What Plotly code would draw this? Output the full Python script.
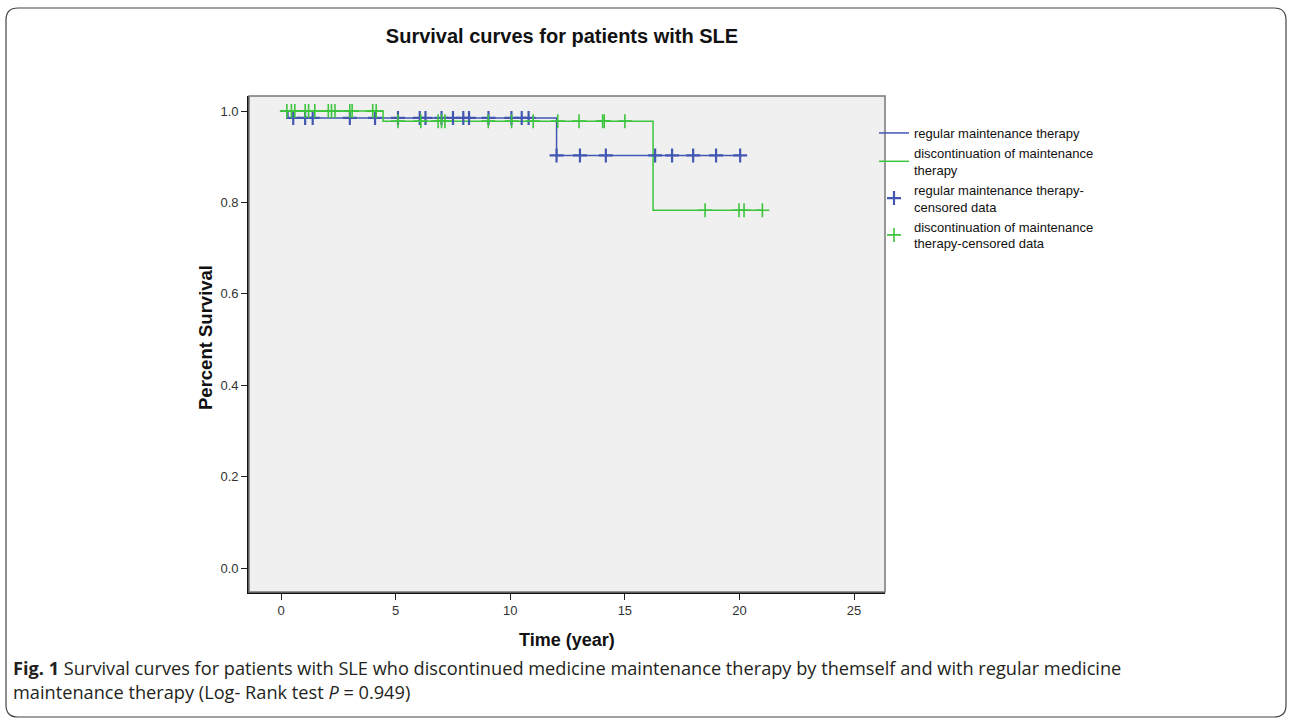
import plotly.graph_objects as go
import numpy as np

# ---------------- data ----------------
reg_name = "regular maintenance therapy"
dis_name = "discontinuation of maintenance<br>therapy"
reg_cens_name = "regular maintenance therapy-<br>censored data"
dis_cens_name = "discontinuation of maintenance<br>therapy-censored data"

# Kaplan-Meier step curves (time in years, survival proportion)
reg_time = [0, 0.3, 12.02, 20.03]
reg_surv = [1.0, 0.985, 0.903, 0.903]
dis_time = [0, 4.45, 16.23, 21.0]
dis_surv = [1.0, 0.978, 0.783, 0.783]

# censored observation times
reg_cens = [0.53, 1.05, 1.38, 3.0, 4.1, 5.1, 6.05, 6.3, 7.0, 7.5, 7.95, 8.2,
            9.05, 10.05, 10.5, 10.8, 12.02, 13.04, 14.17, 16.32, 17.06, 17.98,
            18.98, 20.03]
dis_cens = [0.25, 0.45, 0.6, 1.05, 1.2, 1.47, 2.06, 2.2, 2.35, 3.0, 3.1, 4.0,
            4.15, 5.1, 6.1, 6.85, 7.0, 7.15, 9.04, 10.06, 11.0, 12.07, 13.0,
            14.03, 14.1, 15.0, 18.5, 19.98, 20.2, 21.0]

x_ticks = [0, 5, 10, 15, 20, 25]
y_ticks = [0.0, 0.2, 0.4, 0.6, 0.8, 1.0]

title_text = "Survival curves for patients with SLE"
x_title = "Time (year)"
y_title = "Percent Survival"
caption1 = ("<b>Fig. 1</b> Survival curves for patients with SLE who discontinued medicine "
            "maintenance therapy by themself and with regular medicine")
caption2 = "maintenance therapy (Log- Rank test <i>P</i> = 0.949)"

BLUE = "#4257B2"
GREEN = "#3DC43D"


def step_value(times, surv, t):
    idx = np.searchsorted(np.array(times), t, side="right") - 1
    return surv[max(idx, 0)]


reg_cens_y = [step_value(reg_time, reg_surv, t) for t in reg_cens]
dis_cens_y = [step_value(dis_time, dis_surv, t) for t in dis_cens]

# ---------------- layout geometry (pixels) ----------------
FW, FH = 1292, 724
L, R, T, B = 249, 885, 96, 592
W, H = R - L, B - T


def px(x):
    return (x - L) / W


def py(y):
    return (B - y) / H


fig = go.Figure()

fig.add_trace(go.Scatter(x=reg_time, y=reg_surv, mode="lines", line_shape="hv",
                         line=dict(color=BLUE, width=1.5), name=reg_name))
fig.add_trace(go.Scatter(x=dis_time, y=dis_surv, mode="lines", line_shape="hv",
                         line=dict(color=GREEN, width=1.5), name=dis_name))
fig.add_trace(go.Scatter(x=reg_cens, y=reg_cens_y, mode="markers",
                         marker=dict(symbol="cross-thin", size=10,
                                     line=dict(color=BLUE, width=2.2), color=BLUE),
                         name=reg_cens_name))
fig.add_trace(go.Scatter(x=dis_cens, y=dis_cens_y, mode="markers",
                         marker=dict(symbol="cross-thin", size=10,
                                     line=dict(color=GREEN, width=1.6), color=GREEN),
                         name=dis_cens_name))

FONT = "Liberation Sans, Arial, sans-serif"

# outer rounded frame
r = 12
x0, x1, y0, y1 = 6, 1286, 8, 717
path = (f"M {px(x0 + r)},{py(y0)} L {px(x1 - r)},{py(y0)} "
        f"Q {px(x1)},{py(y0)} {px(x1)},{py(y0 + r)} "
        f"L {px(x1)},{py(y1 - r)} Q {px(x1)},{py(y1)} {px(x1 - r)},{py(y1)} "
        f"L {px(x0 + r)},{py(y1)} Q {px(x0)},{py(y1)} {px(x0)},{py(y1 - r)} "
        f"L {px(x0)},{py(y0 + r)} Q {px(x0)},{py(y0)} {px(x0 + r)},{py(y0)} Z")

shapes = [
    dict(type="path", xref="paper", yref="paper", path=path,
         line=dict(color="#444444", width=1.2), layer="below"),
    dict(type="rect", xref="paper", yref="paper", x0=0, x1=1, y0=0, y1=1,
         line=dict(color="#777777", width=1.5), layer="above"),
]

annotations = [
    dict(text="<b>" + y_title + "</b>", xref="paper", yref="paper", x=px(205), y=py(338),
         textangle=-90, showarrow=False, font=dict(family=FONT, size=18.5, color="#111111"),
         xanchor="center", yanchor="middle"),
    dict(text="<b>" + x_title + "</b>", xref="paper", yref="paper", x=px(567), y=py(640),
         showarrow=False, font=dict(family=FONT, size=18, color="#111111"),
         xanchor="center", yanchor="middle"),
    dict(text=caption1, xref="paper", yref="paper", x=px(11), y=py(668),
         showarrow=False, font=dict(family="Open Sans, sans-serif", size=18.2, color="#231F20"),
         xanchor="left", yanchor="middle", align="left"),
    dict(text=caption2, xref="paper", yref="paper", x=px(11), y=py(692),
         showarrow=False, font=dict(family="Open Sans, sans-serif", size=18.2, color="#231F20"),
         xanchor="left", yanchor="middle", align="left"),
]

fig.update_layout(
    width=FW, height=FH,
    margin=dict(l=L, r=FW - R, t=T, b=FH - B),
    paper_bgcolor="white",
    plot_bgcolor="#F0F0F0",
    title=dict(text="<b>" + title_text + "</b>", x=px(562), xanchor="center",
               xref="paper", yref="container", y=1 - 36 / FH, yanchor="middle",
               font=dict(family=FONT, size=20, color="#111111")),
    xaxis=dict(range=[-1.4, 26.35], tickvals=x_ticks, ticks="outside", ticklen=6,
               tickwidth=1.2, tickcolor="#222222", showline=True, linecolor="#111111",
               linewidth=1.6, showgrid=False, zeroline=False,
               tickfont=dict(family=FONT, size=13, color="#333333")),
    yaxis=dict(range=[-0.0525, 1.033], tickvals=y_ticks, tickformat=".1f",
               ticks="outside", ticklen=6, tickwidth=1.2, tickcolor="#222222",
               showline=True, linecolor="#111111", linewidth=1.6, showgrid=False,
               zeroline=False, tickfont=dict(family=FONT, size=13, color="#333333")),
    legend=dict(x=px(874), y=py(118), xanchor="left", yanchor="top",
                font=dict(family=FONT, size=13, color="#111111"),
                bgcolor="rgba(0,0,0,0)", itemwidth=30, tracegroupgap=0),
    shapes=shapes,
    annotations=annotations,
    showlegend=True,
)

fig.write_html("out.html", config={"displayModeBar": False},
               post_script="document.body.style.margin='0px';")
